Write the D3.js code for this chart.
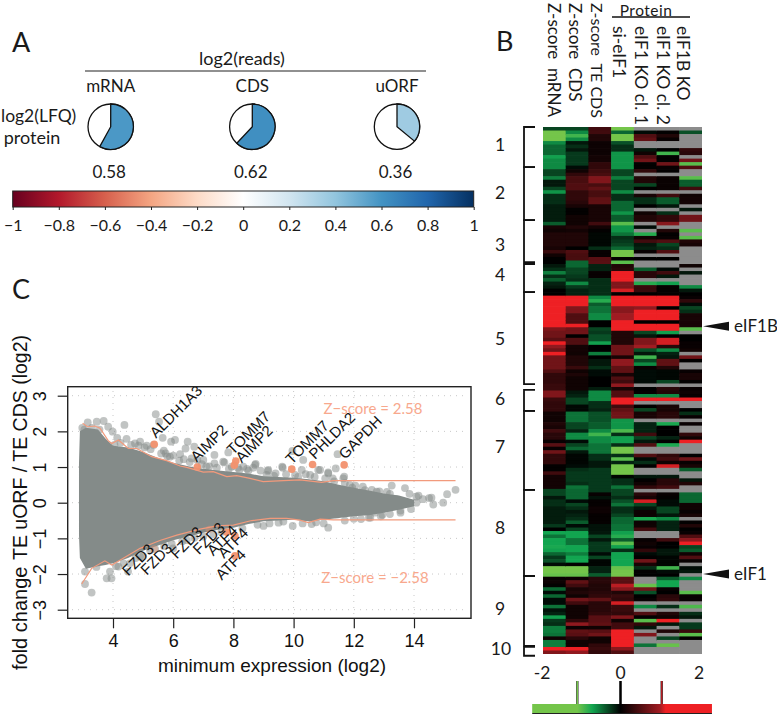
<!DOCTYPE html>
<html>
<head>
<meta charset="utf-8">
<script src="https://cdn.jsdelivr.net/npm/d3@7"></script>
<style>
  html, body { margin: 0; padding: 0; background: #fff; }
  svg { display: block; }
  .cal { font-family: Lato, "Open Sans", sans-serif; fill: #1a1a1a; }
  .hel { font-family: "Liberation Sans", Arial, sans-serif; fill: #111; }
</style>
</head>
<body>
<svg id="fig" width="777" height="714"></svg>
<script>
const _ = null // grey heatmap cell, no value

// panel A
const pieNames = ['mRNA', 'CDS', 'uORF']
const pieValues = [0.58, 0.62, 0.36]
const corrTicks = [-1, -0.8, -0.6, -0.4, -0.2, 0, 0.2, 0.4, 0.6, 0.8, 1]
const corrColors = ['#67001f', '#b2182b', '#d6604d', '#f4a582', '#fddbc7', '#ffffff', '#d1e5f0', '#92c5de', '#4393c3', '#2166ac', '#053061']

// panel B, one value per row from top to bottom
const heatColumns = ['Z-score  mRNA', 'Z-score  CDS', 'Z-score  TE CDS', 'si-eIF1', 'eIF1 KO cl. 1', 'eIF1 KO cl. 2', 'eIF1B KO']
const zMrna = [-.3,-1.1,-1.1,-1.1,-.6,-.45,-.45,-.45,-.7,-.6,-.6,-.6,-.3,-.3,-.55,-.1,-.1,-.3,-.65,-.2,-.2,-.2,-.12,-.12,-.12,-.12,-.12,-.4,.15,.1,
  .2,.2,.2,.2,.15,.35,.1,0,0,-.1,-.2,-.55,-.2,-.4,-.15,-.1,0,0,1.2,1.2,1.2,1.2,1.2,1.2,1.2,1.2,1.2,.8,.7,.7,.55,
  1.15,.9,.7,1.2,.7,.7,.7,.7,.5,.3,.3,.3,.35,.35,.8,.8,.35,.3,.3,.3,.1,.1,.1,.2,.15,.4,.25,.25,.05,
  .55,.05,.7,.3,.3,.3,.02,.02,.4,.12,.12,.12,.12,-.3,-.3,-.1,-.2,-.2,-.12,-.12,-.12,-.12,-.12,-.25,0,-.72,-.5,-.72,-.72,-.75,-.7,
  -.45,-.25,-.35,-.05,-1.1,-1.1,-1.05,.05,.08,.02,-.45,-.05,-.45,-.05,-.05,-.5,-.08,-.15,-.7,-.25,-.2,-.55,-.55,-.5,.1,-.55,-.55,1.2,.8]
const zCds = [-.3,-.6,-.9,-.6,-.1,-.2,-.1,-.25,-.25,-.25,-.25,-.05,.1,.3,.45,.45,.5,.5,.3,.3,.3,.25,.15,.02,.02,.1,.1,.1,.2,.12,
  .2,.2,.2,.2,0,.5,.45,.45,-.45,-.45,-.3,-.3,-.25,-.2,-.6,-.25,-.15,-.15,1.2,1.2,1.2,.8,.8,.5,.5,.5,1.2,.7,.7,0,.5,
  .5,.12,.12,.1,.2,.2,.2,.35,.1,.18,.1,.1,.1,.1,-.1,-.15,-.3,-.3,-.03,-.03,-.5,-.5,-.5,-.3,-.3,-.15,-.6,-.6,-.05,
  -.3,-.45,-.1,-.02,-.02,-.02,-.05,-.2,-.25,-.25,-.25,-.2,-.5,-.45,-.45,-.45,-.05,-.3,-.2,-.1,-.15,-.2,-.4,-.05,-.3,-.72,-.72,-.5,-.5,-.72,-.72,
  -.55,-.72,-.72,.02,-1.1,-1.1,-1.05,.08,.6,.4,.15,.2,.1,.7,.4,.1,.1,.1,.1,.3,.9,.08,.6,.55,.25,.1,.1,1.2,.9]
const zTeCds = [.4,.4,.2,.2,.08,.08,.08,.08,.12,.12,.3,.3,.38,.45,.8,.8,.45,.6,.45,.45,.6,.6,.15,.15,.15,.15,.15,.4,.12,.02,
  -.03,-.03,-.03,-.03,-.2,.05,.05,.55,.55,-.15,-.15,.05,.05,-.2,-.2,-.2,-.2,-.2,-.6,-.8,-.4,-.5,-.5,-.6,-.6,0,0,-.3,-.25,-.35,-.35,
  -.7,0,0,-.55,0,-.1,-.1,-.2,-.05,-.05,0,0,0,-.12,-.6,-.6,-.6,-.2,-.2,-.15,-.35,-.35,-.35,-.4,-.4,-.6,-.9,-.6,-.6,
  -.5,-.5,-.5,-.2,-.2,-.1,-.1,-.25,-.25,-.25,-.25,-.25,-.25,-.25,.05,-.08,.03,.03,.08,.08,.03,.03,.03,-.08,-.08,-.1,-.3,-.1,-.25,-.25,-.25,
  -.05,-.3,-.02,-.02,-.15,-.15,-.4,.25,.25,.2,.2,.25,.3,.6,.25,.25,.25,.3,.55,.55,.6,.1,.55,.7,.1,.1,.3,.35,.3]
const siEif1 = [-1.1,-.45,-1.1,-1.1,-.35,-.2,-.2,-.65,-.65,-.65,-.65,-.65,-.3,-.3,-.55,-.3,-.3,-.3,-.6,-.2,-.2,-.45,-.45,-.45,-.65,-.4,-.4,-1,-.65,-.65,
  -.5,-.2,-.25,-.3,-.45,-1.1,-1.1,.02,-1,.2,.25,1.2,1.2,1.2,.8,.8,1.1,0,1.2,1.2,1.2,.85,.85,1,1,1.2,1.2,1.2,.2,.2,.2,
  .2,.7,.7,.7,.15,.9,.9,.6,.6,.15,.5,.4,.9,.15,.5,.5,1.2,1.2,.4,.6,.7,.7,-.65,-.65,-.65,-.95,-.2,-.7,-.7,
  -.2,-1.1,-1.1,-.2,-1,-.15,-1.1,-1.1,-1.1,-.02,-.2,-.2,-.5,-.3,-.3,-.2,-.35,-.5,-.2,-.2,-.3,-.45,-.45,-.5,-.5,-.7,-.8,-.4,-1,-.7,-.2,
  -.72,-.72,-.72,-.72,-1.05,-1.1,-1.1,.55,.55,1.05,.85,.2,.35,.3,1.1,.35,.35,.3,.8,.1,.4,.4,1.25,1.25,1.25,1.25,1.25,.85,.5]
const ko1Clone1 = [_,-.05,.5,.6,_,_,-.1,.1,.5,.7,.02,.02,.3,_,.2,.2,-.3,.02,_,.15,-.2,-.2,0,_,.1,.2,.2,_,-.05,_,
  -.8,.1,.4,-.1,-.15,.05,_,0,_,_,-.4,.25,.25,_,-.8,.35,.35,0,1.2,1.2,1.2,.9,1.2,1.2,1.2,0,1.2,1.2,-.3,-.1,.8,
  .8,1,-.35,-.1,-.9,-.3,-.6,.05,-.05,-.05,-.05,-.05,_,0,.02,-.6,1.2,_,0,-.3,.15,.15,_,-.15,-.15,-.15,.4,-.3,-.1,
  .5,_,_,.5,-.05,-.2,.02,_,_,-.1,.02,.1,.3,_,.25,.15,1.1,-.3,-.1,.08,.08,-.75,.08,.1,.4,_,_,.05,.1,.05,.3,
  -.05,.02,.7,.15,-.2,.02,0,_,_,-1.05,.7,-.35,0,.05,_,-.6,_,.5,.02,-1,.3,-.1,_,.8,_,_,-.5,_,_]
const ko1Clone2 = [_,.02,.2,.05,_,_,0,-.9,.02,.02,.7,.05,.02,_,.06,.06,.06,.06,_,.4,-.4,-.4,-.1,_,-.2,.3,.3,.85,_,.2,
  .02,.05,.5,-.3,-.2,.5,_,0,_,_,-.05,.4,-.1,_,-.7,.03,.03,.03,1.2,1.2,1.2,0,1.2,1.2,1.2,0,1.2,1.2,-.7,0,1.1,
  1.1,.25,-.6,-.15,-.1,.6,.6,.2,-.03,-.03,-.03,-.3,_,.25,.2,-.6,1.2,_,.15,.15,.25,.25,_,-.75,0,0,0,-.15,0,
  -.75,_,_,.3,.4,.1,1.1,_,_,-.1,.25,.25,.4,_,.05,.02,-.05,-.05,-.3,-.3,-.1,-.6,-.15,-.15,-.15,_,_,.4,0,0,-.1,
  -.1,-.02,-.02,-.02,-.9,-.05,0,-.4,-.72,-.72,.05,0,.25,.3,_,-.2,_,.2,.1,1.2,-.1,_,.2,_,-.3,_,-1.05,_,_]
const ko1b = [_,-.35,_,_,_,_,.3,.25,_,.7,-1,.5,_,_,-1,-.4,-.4,.4,_,.1,.12,.12,_,-.1,_,.7,.7,_,_,-1,
  _,-1,.2,.15,_,_,_,_,_,.1,_,-.1,_,_,_,-.6,-.1,0,.05,.3,-.05,-.3,-.2,.15,.15,.15,.15,-1,_,0,0,
  .05,.05,.1,_,.7,0,_,_,.05,.15,.15,.02,_,.05,.08,.05,1.2,_,_,0,-.2,.05,_,.05,_,_,.3,.1,1.2,
  _,_,_,.02,.7,.05,.15,-.4,_,_,-.1,.2,_,_,-.45,-.45,-.45,.1,.1,.05,.15,_,.02,.2,0,.05,.5,.9,1.2,-.3,-.4,
  .1,.5,.05,_,-.05,-.1,_,-.6,_,_,_,-1,.05,.05,_,-.95,_,-.2,-.1,_,-.25,-.25,.35,-1,.02,_,_,_,_]
const heatValues = [zMrna, zCds, zTeCds, siEif1, ko1Clone1, ko1Clone2, ko1b]
const clusterNames = ['1', '2', '3', '4', '5', '6', '7', '8', '9', '10']
// first and last heatmap row of each bracket
const clusterStart = [0, 11.4, 26.5, 39, 47, 74.8, 80.8, 103.3, 127.8, 148]
const clusterEnd = [11.4, 26.5, 38.5, 47, 73.2, 80.8, 103.3, 127.8, 147.7, 150.5]
const legendTicks = [-2, 0, 2]

// panel C, the solid mass of genes as an envelope, then single points around it
const blobX = [2.87, 2.9, 3.1, 3.5, 3.75, 4, 4.5, 5, 5.5, 6, 6.5, 7, 7.5, 8, 8.5, 9, 9.5, 10, 10.5, 11, 11.5, 12, 12.5, 13, 13.5, 14]
const blobTop = [1.1, 2, 2.1, 2.05, 1.8, 1.6, 1.55, 1.42, 1.25, 1.12, 1.02, .95, .9, .86, .82, .74, .72, .7, .66, .6, .5, .42, .34, .26, .2, .08]
const blobBottom = [-.9, -1.55, -1.85, -1.78, -1.75, -1.7, -1.55, -1.35, -1.2, -1.05, -.95, -.84, -.76, -.7, -.6, -.52, -.5, -.48, -.52, -.48, -.43, -.38, -.35, -.28, -.2, -.1]
const pointX = [2.98, 3.16, 3.46, 3.69, 3.84, 3.99, 4.38, 4.14, 4.45, 5.42, 5.53, 5.65, 5.69, 5.93, 6.06, 6.48, 6.41, 6.7, 6.23, 5.89, 4.73, 5.12, 4.9, 6.61, 7, 7.37, 7.37, 7.7, 7.83, 8.33, 8.74, 8.66, 9.14, 7.94, 9.96, 10.32, 9.62, 11.46, 11.4, 11.15, 10.82, 11.68, 10.55, 9.16, 13.26, 13.7, 15.1, 15.38, 14.15, 14.5, 13.85, 14.08, 14.58, 14.64, 14.97, 14.3, 13.76, 14.08, 13.4, 12.76, 9.97, 10.6, 11.15, 12.24, 11.44, 12.7, 3.07, 3.07, 3.29, 3.79, 3.95, 3.9, 4.18, 4.5, 4.56, 4.9, 3.45, 5.23, 6, 6.45, 7.33, 9, 9.66, 9.64, 10.27, 10.88, 11.15, 11.65, 11.87, 12.37, 8.72, 7.66, 6.95, 7.2, 8.15, 9.4, 10.05, 10.4, 11.3, 11.95, 12.6, 13.1, 5.35, 5.75, 6.35, 8.5, 12.55, 12.95, 13.55,
  4.05, 4.25, 4.6, 4.85, 5.05, 5.25, 5.6, 5.8, 6, 6.2, 6.55, 6.8, 7.1, 7.45, 7.85, 8.2, 8.45, 8.9, 9.1, 9.35, 9.75, 10.15, 10.7, 11.05, 11.35, 11.7, 12.05, 12.3, 12.85, 13.2, 3.05, 3.3, 3.55,
  4.1, 4.35, 4.75, 5, 5.4, 5.7, 5.95, 6.3, 6.7, 7, 7.6, 8.3, 8.8, 9.2, 9.5, 10.3, 10.75, 11, 11.7, 12, 12.5, 12.9, 13.2, 13.55, 13.9]
const pointY = [2.1, 2.25, 2.27, 2.29, 2.13, 1.99, 2.18, 1.82, 1.79, 2.48, 2.27, 1.82, 1.46, 1.71, 1.76, 1.71, 1.52, 1.57, 1.36, 1.29, 1.66, 1.6, 1.71, 1.24, 1.2, 1.34, 1.1, 1.13, 1.41, 1.01, 1.09, .98, .89, 1.01, 1.45, 1.2, 1.01, 1.36, .96, .85, .92, .73, .78, .92, .48, .41, .24, .36, .2, .13, .25, .17, .14, -.05, 0, .1, 0, 0, .1, .31, -.65, -.6, -.7, -.46, -.33, -.28, -1.93, -2.28, -2.52, -2.12, -2.12, -1.93, -1.79, -1.93, -1.7, -1.51, -1.8, -1.33, -1.28, -1.05, -.88, -.65, -.53, .98, .92, .92, .82, .68, .5, .35, 1.06, 1.15, 1.08, 1.02, .98, .82, .78, .8, .68, .42, .36, .3, 1.62, 1.38, 1.22, .9, -.42, -.34, -.22,
  1.62, 1.68, 1.62, 1.6, 1.55, 1.5, 1.38, 1.3, 1.32, 1.18, 1.14, 1.2, 1.02, .98, .95, .92, .95, .9, .78, .75, .8, .72, .72, .68, .6, .55, .48, .45, .32, .25, 2.05, 2.1, 2.05,
  -1.78, -1.7, -1.55, -1.5, -1.3, -1.22, -1.15, -1.08, -.98, -.95, -.82, -.72, -.62, -.58, -.56, -.58, -.55, -.58, -.5, -.45, -.42, -.38, -.32, -.28, -.18]
const hitX = [5.37, 6.8, 8.08, 8.03, 9.94, 10.63, 11.68, 5.37, 7.2, 7.78, 8.05, 8.05]
const hitY = [1.64, 1, 1.17, 1.05, .94, 1.07, 1.06, -1.3, -.75, -.83, -.93, -1.49]
const upperX = [2.99, 3.15, 3.4, 3.57, 3.84, 3.96, 4.18, 4.51, 4.79, 5.29, 5.78, 6.23, 6.45, 7, 7.33, 7.78, 8.11, 8.55, 8.99, 9.66, 10.21, 10.93, 11.32, 15.38]
const upperY = [2.23, 2.13, 2.15, 2.09, 1.74, 1.66, 1.76, 1.52, 1.52, 1.29, 1.18, 1.03, .99, .86, .87, .73, .76, .68, .59, .62, .64, .57, .62, .62]
const lowerX = [2.96, 3.29, 3.73, 3.96, 4.34, 4.9, 5.56, 6.12, 6.89, 7.45, 8, 8.61, 9.22, 9.77, 10.21, 10.49, 10.88, 11.32, 15.38]
const lowerY = [-2.28, -1.84, -1.63, -1.75, -1.56, -1.28, -1.06, -.91, -.74, -.65, -.63, -.5, -.44, -.44, -.49, -.56, -.46, -.48, -.48]
const geneNames = ['ALDH1A3', 'AIMP2', 'TOMM7', 'AIMP2', 'TOMM7', 'PHLDA2', 'GAPDH', 'FZD3', 'FZD3', 'FZD3', 'FZD3', 'ATF4', 'ATF4', 'ATF4']
const geneX = [5.43, 6.78, 7.99, 8.28, 9.94, 10.71, 11.71, 4.51, 5.12, 6.12, 6.86, 7.33, 7.69, 7.61]
const geneY = [1.79, 1.12, 1.32, 1.1, 1.06, 1.2, 1.2, -2.07, -2.05, -1.59, -1.47, -1.51, -1.58, -2.19]
const xTicks = [4, 6, 8, 10, 12, 14]
const yTicks = [-3, -2, -1, 0, 1, 2, 3]

const svg = d3.select('#fig')
const defs = svg.append('defs')

function label(parent, cls, x, y, size, txt, anchor) {
    return parent.append('text')
        .attr('class', cls)
        .attr('x', x)
        .attr('y', y)
        .attr('font-size', size)
        .attr('text-anchor', anchor || 'middle')
        .text(txt)
}

label(svg, 'cal', 12, 52, 27, 'A', 'start')
label(svg, 'cal', 496, 51, 27, 'B', 'start')
label(svg, 'cal', 12, 299, 27, 'C', 'start')

/* ---- A: correlation pies and colour bar ---- */
const corrColor = d3.scaleLinear().domain(corrTicks).range(corrColors)
const barX = d3.scaleLinear().domain([-1, 1]).range([12.7, 473.7])

label(svg, 'cal', 242, 65, 18, 'log2(reads)')
svg.append('line').attr('x1', 85).attr('x2', 426).attr('y1', 71).attr('y2', 71)
    .attr('stroke', '#222').attr('stroke-width', 1.2)
label(svg, 'cal', 1, 122, 17.5, 'log2(LFQ)', 'start')
label(svg, 'cal', 32, 144, 18, 'protein')

const pieArc = d3.arc().innerRadius(0).outerRadius(22.7)
pieNames.forEach((name, i) => {
    const cx = [110.7, 252.3, 397][i]
    const g = svg.append('g').attr('transform', `translate(${cx},126.7)`)
    g.append('circle').attr('r', 22.7).attr('fill', '#fff').attr('stroke', '#111').attr('stroke-width', 1.3)
    g.append('path')
        .attr('d', pieArc({ startAngle: 0, endAngle: pieValues[i] * 2 * Math.PI }))
        .attr('fill', corrColor(pieValues[i]))
        .attr('stroke', '#111')
        .attr('stroke-width', 1.3)
    label(svg, 'cal', cx, 92, 17, name)
    label(svg, 'cal', cx - 1.5, 178, 17, pieValues[i].toFixed(2))
})

const corrGrad = defs.append('linearGradient').attr('id', 'corrGrad')
corrTicks.forEach((t, i) => {
    corrGrad.append('stop').attr('offset', (i * 10) + '%').attr('stop-color', corrColors[i])
})
svg.append('rect').attr('x', barX(-1)).attr('y', 191).attr('width', barX(1) - barX(-1)).attr('height', 16)
    .attr('fill', 'url(#corrGrad)').attr('stroke', '#222').attr('stroke-width', 1)
const corrAxis = svg.append('g')
    .attr('transform', 'translate(0,207)')
    .call(d3.axisBottom(barX).tickValues(corrTicks).tickSize(3).tickFormat(d => d3.format('')(d).replace('-', '\u2212')))
corrAxis.select('.domain').remove()
corrAxis.selectAll('line').attr('stroke', '#222')
corrAxis.selectAll('text').attr('class', 'cal').attr('font-size', 16).attr('y', 13).attr('dy', '0.71em').style('fill', '#1a1a1a')

/* ---- B: heatmap ---- */
const nRows = zMrna.length
const heatX = d3.scaleBand().domain(heatColumns).range([543, 702])
const heatY = d3.scaleBand().domain(d3.range(nRows)).range([127, 654])
const heatColor = d3.scaleLinear()
    .domain([-1.1, -0.72, 0, 1, 1.15])
    .range(['#74c54a', '#12a550', '#000000', '#a01c22', '#ee2024'])
    .clamp(true)
const rowEdge = d3.scaleLinear().domain([0, nRows]).range([127, 654])

heatColumns.forEach((name, c) => {
    svg.append('g')
        .selectAll('rect')
        .data(heatValues[c])
        .enter()
        .append('rect')
        .attr('x', heatX(name))
        .attr('y', (d, i) => heatY(i))
        .attr('width', heatX.bandwidth() + (c < 6 ? 0.6 : 0))
        .attr('height', (d, i) => heatY.bandwidth() + (i < nRows - 1 ? 0.7 : 0))
        .attr('fill', d => (d === null ? '#8c8c8c' : heatColor(d)))
})

const headerX = [554, 575, 597, 619, 641, 663, 683]
const headerY = [3, 3, 3, 26, 26, 26, 26]
const headerSize = [17, 17, 16, 17.5, 17.5, 17.5, 17.5]
heatColumns.forEach((name, c) => {
    svg.append('text')
        .attr('class', 'cal')
        .attr('transform', `translate(${headerX[c] - 6},${headerY[c]}) rotate(90)`)
        .attr('font-size', headerSize[c])
        .style('white-space', 'pre')
        .text(name)
})
label(svg, 'cal', 646, 15.5, 15.5, 'Protein').style('letter-spacing', '0.5px')
svg.append('line').attr('x1', 612).attr('x2', 690).attr('y1', 17).attr('y2', 17)
    .attr('stroke', '#111').attr('stroke-width', 1.3)

// cluster brackets
const clusterLabelY = [151, 199, 251, 281, 345, 405, 453, 534, 615, 655]
clusterNames.forEach((name, i) => {
    const y0 = rowEdge(clusterStart[i])
    const y1 = rowEdge(clusterEnd[i])
    svg.append('path')
        .attr('d', `M535,${y0}H524V${y1}H535`)
        .attr('fill', 'none')
        .attr('stroke', '#111')
        .attr('stroke-width', 1.8)
    label(svg, 'cal', name === '10' ? 501 : 500, clusterLabelY[i], 17.5, name)
})

// gene arrows
const arrowGenes = ['eIF1B', 'eIF1']
const arrowRows = [56.7, 127.2]
arrowGenes.forEach((gene, i) => {
    const y = rowEdge(arrowRows[i])
    svg.append('path').attr('d', `M703,${y}L729,${y - 4.5}V${y + 4.5}Z`).attr('fill', '#111')
    label(svg, 'cal', 734, y + 6, 17, gene, 'start')
})

// colour key
const keyX = d3.scaleLinear().domain([-2, 2]).range([542, 699])
const keyGrad = defs.append('linearGradient').attr('id', 'keyGrad')
const keyStops = [-2.25, -1.1, -0.72, 0, 1, 1.15, 2.33]
keyStops.forEach(v => {
    keyGrad.append('stop')
        .attr('offset', ((v + 2.25) / 4.58 * 100) + '%')
        .attr('stop-color', heatColor(v))
})
svg.append('rect').attr('x', keyX(-2.25)).attr('y', 704).attr('width', keyX(2.33) - keyX(-2.25)).attr('height', 9)
    .attr('fill', 'url(#keyGrad)')
svg.append('line').attr('x1', keyX(-2.25)).attr('x2', keyX(2.33)).attr('y1', 713.5).attr('y2', 713.5).attr('stroke', '#222')
legendTicks.forEach(t => label(svg, 'cal', keyX(t), 679, 17.5, t))
const keyMarks = [-1.1, 0, 1.05]
keyMarks.forEach(v => {
    svg.append('line').attr('x1', keyX(v)).attr('x2', keyX(v)).attr('y1', 681).attr('y2', 704)
        .attr('stroke', v === 0 ? '#000' : '#333').attr('stroke-width', 2.4)
    svg.append('line').attr('x1', keyX(v)).attr('x2', keyX(v)).attr('y1', 681).attr('y2', 704)
        .attr('stroke', heatColor(v)).attr('stroke-width', 1.4)
})

/* ---- C: MA plot ---- */
const x = d3.scaleLinear().domain([4, 14]).range([113, 414])
const y = d3.scaleLinear().domain([-3, 3]).range([609.7, 395.7])

const gridG = svg.append('g')
    .attr('stroke', '#c8c8c8')
    .attr('stroke-dasharray', '1,5')
xTicks.forEach(t => gridG.append('line').attr('x1', x(t)).attr('x2', x(t)).attr('y1', 391).attr('y2', 614))
yTicks.forEach(t => gridG.append('line').attr('x1', 72).attr('x2', 467).attr('y1', y(t)).attr('y2', y(t)))

svg.append('g')
    .selectAll('circle')
    .data(pointX)
    .enter()
    .append('circle')
    .attr('cx', d => x(d))
    .attr('cy', (d, i) => y(pointY[i]))
    .attr('r', 3.9)
    .attr('fill', '#838a88')
    .attr('opacity', 0.5)

const blob = d3.area()
    .x(d => x(d))
    .y0((d, i) => y(blobBottom[i]))
    .y1((d, i) => y(blobTop[i]))
svg.append('path')
    .attr('d', blob(blobX))
    .attr('fill', '#848b89')

svg.append('g')
    .selectAll('circle')
    .data(hitX)
    .enter()
    .append('circle')
    .attr('cx', d => x(d))
    .attr('cy', (d, i) => y(hitY[i]))
    .attr('r', 3.8)
    .attr('fill', '#f2916e')
    .attr('opacity', (d, i) => (i === 7 || i === 8 ? 0.35 : 0.95))

const curve = d3.line().x(d => x(d[0])).y(d => y(d[1]))
svg.append('path').attr('d', curve(d3.zip(upperX, upperY))).attr('fill', 'none').attr('stroke', '#f29a7c').attr('stroke-width', 1.2)
svg.append('path').attr('d', curve(d3.zip(lowerX, lowerY))).attr('fill', 'none').attr('stroke', '#f29a7c').attr('stroke-width', 1.2)

geneNames.forEach((gene, i) => {
    svg.append('text')
        .attr('class', 'hel')
        .attr('transform', `translate(${x(geneX[i])},${y(geneY[i])}) rotate(-45)`)
        .attr('font-size', 15)
        .text(gene)
})

label(svg, 'cal', 373, 414, 15, 'Z\u2212score = 2.58').style('fill', '#f8a88d')
label(svg, 'cal', 375, 583, 15, 'Z\u2212score = \u22122.58').style('fill', '#f8a88d')

svg.append('rect').attr('x', 67.7).attr('y', 386.7).attr('width', 403.3).attr('height', 231.6)
    .attr('fill', 'none').attr('stroke', '#222').attr('stroke-width', 1.4)

const xAxis = svg.append('g')
    .attr('transform', 'translate(0,618.3)')
    .call(d3.axisBottom(x).tickValues(xTicks).tickSize(10))
xAxis.select('.domain').remove()
xAxis.selectAll('line').attr('stroke', '#222').attr('stroke-width', 1.2)
xAxis.selectAll('text').attr('class', 'hel').attr('font-size', 18).attr('y', 16).attr('dy', '0.71em').style('fill', '#111')

const yAxis = svg.append('g')
    .attr('transform', 'translate(67.7,0)')
    .call(d3.axisLeft(y).tickValues(yTicks).tickSize(10).tickFormat(d3.format('d')))
yAxis.select('.domain').remove()
yAxis.selectAll('line').attr('stroke', '#222').attr('stroke-width', 1.2)
yAxis.selectAll('text')
    .attr('class', 'hel')
    .attr('font-size', 18)
    .attr('x', 0)
    .attr('y', 0)
    .attr('dy', 0)
    .attr('transform', 'translate(-21.5,0) rotate(-90)')
    .style('text-anchor', 'middle')
    .style('fill', '#111')

label(svg, 'hel', 272, 672, 19, 'minimum expression (log2)')
svg.append('text').attr('class', 'hel')
    .attr('transform', 'translate(27,670) rotate(-90)')
    .attr('font-size', 20)
    .text('fold change')
svg.append('text').attr('class', 'hel')
    .attr('transform', 'translate(27,560) rotate(-90)')
    .attr('font-size', 19.5)
    .text('TE uORF / TE CDS (log2)')
</script>
</body>
</html>
